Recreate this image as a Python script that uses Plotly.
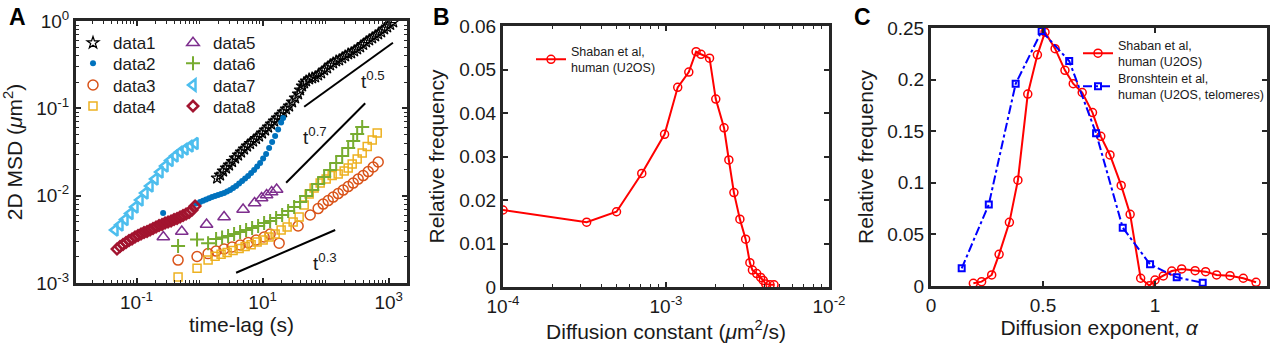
import plotly.graph_objects as go

# ---------------- Panel A data (time-lag s, MSD um^2) ----------------
t1 = [1.896, 2.116, 2.361, 2.634, 2.940, 3.280, 3.661, 4.085, 4.558, 5.086, 5.676, 6.334, 7.067, 7.886,
      8.800, 9.820, 10.96, 12.23, 13.65, 15.23, 16.99, 18.96, 21.16, 23.61, 26.34, 29.40, 32.80, 36.60,
      39.37, 42.36, 45.58, 49.04, 54.71, 61.05, 68.13, 76.02, 84.83, 94.66, 105.6, 117.9, 131.5, 146.8,
      163.8, 182.8, 203.9, 227.6, 253.9, 283.4, 316.2, 352.9, 393.8, 439.4, 490.3, 547.1, 610.5, 681.3,
      760.2, 848.3, 946.6, 1056, 1179]
m1 = [0.01591, 0.01722, 0.01913, 0.02071, 0.02241, 0.02458, 0.02696, 0.02918, 0.03158, 0.03418, 0.03700,
      0.03951, 0.04219, 0.04508, 0.04815, 0.05213, 0.05640, 0.06105, 0.06608, 0.07154, 0.07743, 0.08381,
      0.09071, 0.09817, 0.1062, 0.1181, 0.1312, 0.1458, 0.1621, 0.1801, 0.1949, 0.2055, 0.2166, 0.2224,
      0.2283, 0.2407, 0.2537, 0.2746, 0.2895, 0.3133, 0.3303, 0.3481, 0.3574, 0.3768, 0.3972, 0.4188,
      0.4299, 0.4532, 0.4778, 0.5037, 0.5380, 0.5747, 0.6059, 0.6387, 0.6733, 0.7099, 0.7482, 0.8099,
      0.8538, 0.9118, 0.9739]

t2 = [0.264, 0.880, 1.018, 1.136, 1.268, 1.415, 1.579, 1.762, 1.966, 2.194, 2.448,
      2.732, 3.049, 3.402, 3.796, 4.236, 4.727, 5.274, 5.886, 6.568, 7.329, 8.178, 9.126, 10.18, 11.36,
      12.68, 14.15, 15.79, 17.62, 19.66, 21.15]
m2 = [0.00632, 0.008119, 0.008447, 0.008742, 0.009023, 0.009338, 0.009638,
      0.009895, 0.01016, 0.01043, 0.01071, 0.01114, 0.01159, 0.01222, 0.01288, 0.01376, 0.01469, 0.01570,
      0.01677, 0.01815, 0.01965, 0.02154, 0.02362, 0.02661, 0.02996, 0.03510, 0.04111, 0.04815, 0.05718,
      0.06877, 0.07743]

t3 = [0.456, 0.912, 1.365, 1.828, 2.447, 3.28, 4.394, 5.888, 7.88, 10.56, 13.15, 18.28, 36.56, 56.8, 76.0,
      91.2, 109.6, 131.5, 157.9, 189.7, 227.5, 273.5, 328.1, 393.7, 473.1, 567.5, 681]
m3 = [0.00183, 0.00201, 0.00217, 0.00232, 0.00245, 0.00258, 0.00272, 0.00290, 0.00310, 0.00336, 0.00363,
      0.00286, 0.00449, 0.00600, 0.00711, 0.00801, 0.00879, 0.00964, 0.01057, 0.01159, 0.01271, 0.01394,
      0.01549, 0.01699, 0.01888, 0.02128, 0.02427]

t4 = [0.456, 0.912, 1.365, 1.762, 2.193, 2.733, 3.401, 4.236, 5.275, 6.568, 8.18, 10.19, 12.68, 15.79,
      19.66, 24.48, 30.48, 37.95, 45.6, 54.7, 65.6, 81.8, 101.9, 126.8, 157.9, 196.6, 227.5, 263.4, 316.2,
      379.5, 455.9, 547, 656.6]
m4 = [0.00117, 0.00148, 0.00183, 0.00203, 0.00214, 0.00223, 0.00235, 0.00248, 0.00261, 0.00275, 0.00294,
      0.00310, 0.00336, 0.00363, 0.00404, 0.00437, 0.00499, 0.00569, 0.00780, 0.01042, 0.01222, 0.01394,
      0.01549, 0.01699, 0.01767, 0.01913, 0.02070, 0.02300, 0.02624, 0.03075, 0.03648, 0.04334, 0.05212]

t5 = [0.266, 0.522, 1.291, 2.447, 4.898, 7.46, 9.64, 11.57, 13.89, 16.68]
m5 = [0.00336, 0.00388, 0.00467, 0.00569, 0.00694, 0.00823, 0.00939, 0.01016, 0.01099, 0.01175]

t6 = [0.456, 0.912, 1.365, 1.828, 2.275, 2.833, 3.529, 4.394, 5.471, 6.813, 8.485, 10.56, 13.15, 16.38,
      20.40, 25.40, 31.62, 39.37, 48.98, 61.1, 76.0, 94.6, 117.8, 146.8, 182.8, 227.5, 273.5, 316.2, 379.5]
m6 = [0.00265, 0.00314, 0.00286, 0.00319, 0.00331, 0.00345, 0.00363, 0.00383, 0.00404, 0.00426, 0.00449,
      0.00485, 0.00512, 0.00554, 0.00600, 0.00667, 0.00740, 0.00845, 0.00989, 0.01159, 0.01358, 0.01634,
      0.01966, 0.02361, 0.02843, 0.03510, 0.04218, 0.05080, 0.06105]

t7 = [0.04558, 0.05470, 0.06568, 0.07882, 0.09467, 0.1136, 0.1364, 0.1637, 0.1966, 0.2360, 0.2834, 0.3402,
      0.4084, 0.4902, 0.5885, 0.7066, 0.8483]
m7 = [0.004036, 0.004604, 0.005323, 0.006237, 0.007402, 0.008905, 0.01071, 0.01288, 0.01549, 0.01863,
      0.02183, 0.02524, 0.02842, 0.03158, 0.03418, 0.03700, 0.03951]

t8 = [0.04902, 0.05470, 0.06104, 0.06811, 0.07600, 0.08481, 0.09464, 0.1056, 0.1178, 0.1315, 0.1468,
      0.1638, 0.1827, 0.2039, 0.2275, 0.2539, 0.2833, 0.3161, 0.3528, 0.3937, 0.4393, 0.4902, 0.5470,
      0.6104, 0.6811, 0.7600, 0.8481]
m8 = [0.002445, 0.002612, 0.002754, 0.002903, 0.003060, 0.003183, 0.003355, 0.003491, 0.003632, 0.003779,
      0.003880, 0.004036, 0.004199, 0.004369, 0.004546, 0.004667, 0.004855, 0.004985, 0.005117, 0.005323,
      0.005466, 0.005687, 0.005916, 0.006154, 0.006403, 0.006841, 0.007601]

# guide power-law segments (end points)
g5_t = [45.6, 1167]
g5_m = [0.1043, 0.564]
g7_t = [23.6, 423.8]
g7_m = [0.01406, 0.1141]
g3_t = [3.797, 141.6]
g3_m = [0.00131, 0.00404]

# ---------------- Panel B data ----------------
dB = [1.0e-4, 3.26e-4, 4.97e-4, 7.1e-4, 9.8e-4, 1.18e-3, 1.38e-3, 1.53e-3, 1.64e-3, 1.85e-3, 2.02e-3,
      2.27e-3, 2.43e-3, 2.61e-3, 2.84e-3, 3.08e-3, 3.27e-3, 3.39e-3, 3.6e-3, 3.81e-3, 3.95e-3, 4.09e-3,
      4.35e-3, 4.6e-3]
fB = [0.0177, 0.0149, 0.0173, 0.0261, 0.0351, 0.0459, 0.0494, 0.0541, 0.0535, 0.0526, 0.0432, 0.0366,
      0.0292, 0.0217, 0.0156, 0.0110, 0.0056, 0.0039, 0.0031, 0.0022, 0.0015, 0.0007, 0.0005, 0.0005]

# ---------------- Panel C data ----------------
aS = [0.189, 0.226, 0.271, 0.304, 0.35, 0.388, 0.432, 0.475, 0.509, 0.554, 0.598, 0.635, 0.675, 0.721,
      0.758, 0.799, 0.849, 0.889, 0.936, 0.975, 1.0, 1.037, 1.075, 1.119, 1.179, 1.226, 1.275, 1.335,
      1.394, 1.451]
fS = [0.0026, 0.0042, 0.0107, 0.0307, 0.0617, 0.1025, 0.186, 0.224, 0.246, 0.230, 0.209, 0.196, 0.1875,
      0.168, 0.145, 0.127, 0.0975, 0.0695, 0.0075, 0.0003, 0.0058, 0.0097, 0.0145, 0.0165, 0.0148, 0.0139,
      0.0107, 0.0100, 0.0075, 0.0036]
aBr = [0.137, 0.258, 0.378, 0.494, 0.617, 0.737, 0.856, 0.978, 1.097, 1.213]
fBr = [0.0171, 0.079, 0.196, 0.247, 0.218, 0.148, 0.0565, 0.021, 0.0084, 0.0032]

A_names = ["data1", "data2", "data3", "data4", "data5", "data6", "data7", "data8"]
A_colors = ["#000000", "#0072BD", "#D95319", "#EDB120", "#7E2F8E", "#77AC30", "#4DBEEE", "#A2142F"]

FONT = "Liberation Sans, Arial, Helvetica, sans-serif"
AX = "#262626"
TXT = "#1a1a1a"
W, H = 1280, 344

fig = go.Figure()

A_series = [(t1, m1), (t2, m2), (t3, m3), (t4, m4), (t5, m5), (t6, m6), (t7, m7), (t8, m8)]
A_sym = ["star-open", "circle", "circle-open", "square-open", "triangle-up-open", "cross-thin-open",
         "triangle-left-open", "diamond-open"]
A_size = [9, 6, 10, 8, 11, 10, 10, 8]
A_lw = [1.2, 0, 1.5, 1.5, 1.5, 2, 2.5, 2.5]
# legend rows: (data1, data5), (data2, data6), (data3, data7), (data4, data8)
A_leg = ["legend", "legend2", "legend3", "legend4", "legend", "legend2", "legend3", "legend4"]
for i, (tx, my) in enumerate(A_series):
    fig.add_trace(go.Scatter(
        x=tx, y=my, mode="markers", name=A_names[i],
        marker=dict(symbol=A_sym[i], size=A_size[i], color=A_colors[i],
                    line=dict(width=A_lw[i], color=A_colors[i])),
        xaxis="x", yaxis="y", legend=A_leg[i], legendrank=1 if i < 4 else 2))

for gt, gm in [(g5_t, g5_m), (g7_t, g7_m), (g3_t, g3_m)]:
    fig.add_trace(go.Scatter(x=gt, y=gm, mode="lines", line=dict(color="black", width=2),
                             showlegend=False, xaxis="x", yaxis="y"))

fig.add_trace(go.Scatter(
    x=dB, y=fB, mode="lines+markers", name="Shaban et al,<br>human (U2OS)",
    line=dict(color="#FF0000", width=2),
    marker=dict(symbol="circle-open", size=8, color="#FF0000", line=dict(width=1.5, color="#FF0000")),
    xaxis="x2", yaxis="y2", legend="legend5"))

fig.add_trace(go.Scatter(
    x=aS, y=fS, mode="lines+markers", name="Shaban et al,<br>human (U2OS)",
    line=dict(color="#FF0000", width=2),
    marker=dict(symbol="circle-open", size=8, color="#FF0000", line=dict(width=1.5, color="#FF0000")),
    xaxis="x3", yaxis="y3", legend="legend6"))
fig.add_trace(go.Scatter(
    x=aBr, y=fBr, mode="lines+markers", name="Bronshtein et al,<br>human (U2OS, telomeres)",
    line=dict(color="#0000FF", width=2, dash="dashdot"),
    marker=dict(symbol="square-open", size=6, color="#0000FF", line=dict(width=2, color="#0000FF")),
    xaxis="x3", yaxis="y3", legend="legend7"))


def axstyle(**kw):
    d = dict(showline=True, linewidth=3, linecolor=AX, mirror="ticks", ticks="inside", ticklen=5,
             tickwidth=2, tickcolor=AX, showgrid=False, zeroline=False, automargin=False,
             tickfont=dict(family=FONT, size=19, color=TXT),
             title_font=dict(family=FONT, size=21, color=TXT))
    d.update(kw)
    return d


minor_log = dict(ticks="inside", ticklen=3, tickwidth=1, tickcolor=AX, showgrid=False, dtick="D1")


def rowlegend(top_px, x_px=73):
    return dict(orientation="h", x=x_px / W, y=1 - top_px / H, xanchor="left", yanchor="top",
                bgcolor="rgba(0,0,0,0)", entrywidth=55, entrywidthmode="pixels",
                font=dict(family=FONT, size=17, color=TXT), traceorder="normal")


def boxlegend(x_px, top_px):
    return dict(x=x_px / W, y=1 - top_px / H, xanchor="left", yanchor="top", bgcolor="rgba(0,0,0,0)",
                font=dict(family=FONT, size=12.5, color=TXT))


fig.update_layout(
    width=W, height=H, margin=dict(l=0, r=0, t=0, b=0),
    paper_bgcolor="white", plot_bgcolor="white",
    font=dict(family=FONT, color=TXT),
    xaxis=axstyle(type="log", domain=[76 / W, 407 / W], range=[-1.96, 3.29], anchor="y",
                  tickvals=[0.1, 10, 1000],
                  ticktext=["10<sup>-1</sup>", "10<sup>1</sup>", "10<sup>3</sup>"],
                  minor=minor_log, title=dict(text="time-lag (s)", standoff=4)),
    yaxis=axstyle(type="log", domain=[1 - 283 / H, 1 - 21 / H], range=[-3, 0], anchor="x",
                  tickvals=[0.001, 0.01, 0.1, 1],
                  ticktext=["10<sup>-3</sup>", "10<sup>-2</sup>", "10<sup>-1</sup>", "10<sup>0</sup>"],
                  minor=minor_log, title=dict(text="2D MSD (<i>μ</i>m<sup>2</sup>)", standoff=13)),
    xaxis2=axstyle(type="log", domain=[503 / W, 829 / W], range=[-4, -2], anchor="y2",
                   tickvals=[1e-4, 1e-3, 1e-2],
                   ticktext=["10<sup>-4</sup>", "10<sup>-3</sup>", "10<sup>-2</sup>"],
                   minor=minor_log, title=dict(text="Diffusion constant (<i>μ</i>m<sup>2</sup>/s)", standoff=2)),
    yaxis2=axstyle(domain=[1 - 287 / H, 1 - 26 / H], range=[0, 0.06], anchor="x2",
                   tickvals=[0, 0.01, 0.02, 0.03, 0.04, 0.05, 0.06],
                   ticktext=["0", "0.01", "0.02", "0.03", "0.04", "0.05", "0.06"],
                   title=dict(text="Relative frequency", standoff=9)),
    xaxis3=axstyle(domain=[931 / W, 1267 / W], range=[0, 1.5], anchor="y3",
                   tickvals=[0, 0.5, 1, 1.5], ticktext=["0", "0.5", "1", "1.5"],
                   title=dict(text="Diffusion exponent, <i>α</i>", standoff=6)),
    yaxis3=axstyle(domain=[1 - 286 / H, 1 - 28 / H], range=[0, 0.25], anchor="x3",
                   tickvals=[0, 0.05, 0.1, 0.15, 0.2, 0.25],
                   ticktext=["0", "0.05", "0.1", "0.15", "0.2", "0.25"],
                   title=dict(text="Relative frequency", standoff=8)),
    legend=rowlegend(42.7 - 17.5),
    legend2=rowlegend(63.3 - 17.5),
    legend3=rowlegend(85.0 - 17.5),
    legend4=rowlegend(106.0 - 17.5),
    legend5=boxlegend(531, 59.3 - 22.75),
    legend6=boxlegend(1078, 53.2 - 22.75),
    legend7=boxlegend(1078, 86.3 - 22.75),
    showlegend=True,
)

ann_font = dict(family=FONT, size=19, color=TXT)
fig.add_annotation(x=2.754, y=-0.676, xref="x", yref="y", text="t<sup>0.5</sup>", showarrow=False,
                   font=ann_font)
fig.add_annotation(x=1.833, y=-1.317, xref="x", yref="y", text="t<sup>0.7</sup>", showarrow=False,
                   font=ann_font)
fig.add_annotation(x=1.992, y=-2.761, xref="x", yref="y", text="t<sup>0.3</sup>", showarrow=False,
                   font=ann_font)

for letter, px in [("A", 7), ("B", 431), ("C", 852)]:
    fig.add_annotation(x=px / W, y=1 - 2 / H, xref="paper", yref="paper", xanchor="left", yanchor="top",
                       text="<b>%s</b>" % letter, showarrow=False,
                       font=dict(family=FONT, size=23, color="black"))

fig.write_html("out.html", config={"displayModeBar": False},
               post_script="document.body.style.margin='0px';")
